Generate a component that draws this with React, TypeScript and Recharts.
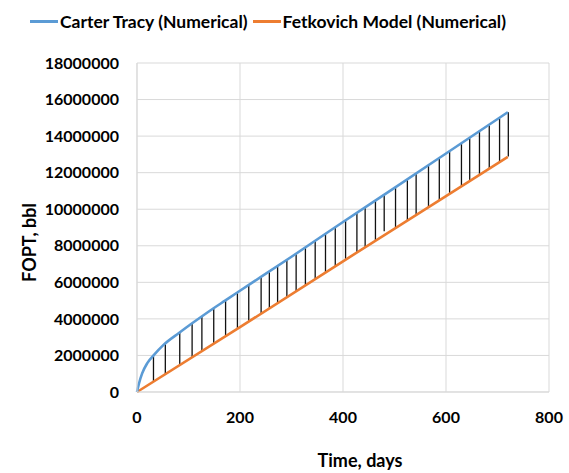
import React from 'react'
import {
  ComposedChart,
  Line,
  XAxis,
  YAxis,
  CartesianGrid,
  ReferenceLine
} from 'recharts'

// Carter Tracy curve (days, bbl)
const carterDays = [0, 4, 10, 20, 33, 52, 82, 107, 127, 148, 171, 194, 300, 400, 500, 600, 720]
const carterFopt = [
  0, 480000, 1020000, 1580000, 2030000, 2590000, 3240000, 3760000, 4160000, 4570000,
  5000000, 5430000, 7400000, 9300000, 11170000, 13050000, 15310000
]

// Fetkovich curve (days, bbl)
const fetkDays = [0, 200, 400, 600, 720]
const fetkFopt = [0, 3550000, 7150000, 10720000, 12860000]

// black hatch lines between the two curves
const hatchDays = [
  32, 55, 83, 107, 126, 149, 172, 195, 217, 241, 257, 273, 291, 309, 327, 346, 366, 385,
  405, 427, 443, 463, 480, 502, 525, 542, 566, 587, 607, 630, 646, 665, 684, 704, 721
]
const hatchTop = [
  2010000, 2660000, 3260000, 3760000, 4140000, 4590000, 5020000, 5450000, 5860000, 6310000,
  6610000, 6910000, 7240000, 7580000, 7920000, 8270000, 8650000, 9000000, 9380000, 9790000,
  10090000, 10460000, 10780000, 11190000, 11620000, 11940000, 12390000, 12780000, 13150000,
  13580000, 13880000, 14240000, 14590000, 14970000, 15310000
]
const hatchBottom = [
  570000, 980000, 1480000, 1910000, 2250000, 2660000, 3070000, 3480000, 3880000, 4300000,
  4590000, 4880000, 5200000, 5520000, 5840000, 6180000, 6540000, 6880000, 7230000, 7630000,
  7910000, 8270000, 8800000, 8970000, 9380000, 9680000, 10110000, 10480000, 10840000,
  11250000, 11540000, 11880000, 12220000, 12570000, 12880000
]

const xTicks = [0, 200, 400, 600, 800]
const yTicks = [0, 2000000, 4000000, 6000000, 8000000, 10000000, 12000000, 14000000, 16000000, 18000000]

const seriesNames = ['Carter Tracy (Numerical)', 'Fetkovich Model (Numerical)']
const seriesColors = ['#5B9BD5', '#ED7D31']

const carterData = carterDays.map((d, i) => ({ day: d, fopt: carterFopt[i] }))
const fetkData = fetkDays.map((d, i) => ({ day: d, fopt: fetkFopt[i] }))

const font = 'Lato, "Open Sans", sans-serif'
const tickStyle = { fontFamily: font, fontSize: 16, fontWeight: 700, fill: '#000' }

const App: React.FC = () => {
  return (
    <div style={{ position: 'relative', width: 569, height: 473 }}>
      <style>{'body{margin:0}'}</style>
      {/* legend */}
      <div
        style={{
          position: 'absolute',
          top: 11,
          left: 30,
          display: 'flex',
          alignItems: 'center',
          fontFamily: font,
          fontWeight: 700,
          fontSize: 17.5,
          color: '#000',
          whiteSpace: 'nowrap',
          zIndex: 2
        }}
      >
        {seriesNames.map((name, i) => (
          <div key={name} style={{ display: 'flex', alignItems: 'center', marginRight: 5 }}>
            <span
              style={{
                display: 'inline-block',
                width: 28,
                height: 2.5,
                background: seriesColors[i],
                marginRight: 2
              }}
            />
            <span>{name}</span>
          </div>
        ))}
      </div>

      <ComposedChart width={569} height={473} margin={{ top: 63, right: 20, left: 0, bottom: 0 }}>
        <CartesianGrid stroke="#d9d9d9" strokeWidth={1} />
        <XAxis
          type="number"
          dataKey="day"
          domain={[0, 800]}
          ticks={xTicks}
          height={81}
          tickSize={0}
          tickMargin={20}
          axisLine={{ stroke: '#d9d9d9' }}
          tickLine={false}
          tick={tickStyle}
          label={{
            value: 'Time, days',
            position: 'insideBottom',
            offset: 6,
            dx: 17,
            style: { fontFamily: font, fontSize: 18, fontWeight: 700, fill: '#000' }
          }}
        />
        <YAxis
          type="number"
          domain={[0, 18000000]}
          ticks={yTicks}
          width={137}
          tickSize={0}
          tickMargin={18}
          axisLine={{ stroke: '#d9d9d9' }}
          tickLine={false}
          tick={tickStyle}
          label={{
            content: (props: any) => {
              const vb = props.viewBox || { x: 0, y: 0, width: 0, height: 0 }
              const cx = vb.x + 29
              const cy = vb.y + vb.height / 2 + 15
              return (
                <text
                  x={cx}
                  y={cy}
                  transform={`rotate(-90 ${cx} ${cy})`}
                  textAnchor="middle"
                  dominantBaseline="central"
                  style={{ fontFamily: font, fontSize: 18, fontWeight: 700, fill: '#000' }}
                >
                  FOPT, bbl
                </text>
              )
            }
          }}
        />
        {hatchDays.map((d, i) => (
          <ReferenceLine
            key={d}
            segment={[
              { x: d, y: hatchBottom[i] },
              { x: d, y: hatchTop[i] }
            ]}
            stroke="#111"
            strokeWidth={1.3}
          />
        ))}
        <Line
          data={fetkData}
          dataKey="fopt"
          name={seriesNames[1]}
          type="linear"
          stroke={seriesColors[1]}
          strokeWidth={2.6}
          dot={false}
          isAnimationActive={false}
        />
        <Line
          data={carterData}
          dataKey="fopt"
          name={seriesNames[0]}
          type="monotone"
          stroke={seriesColors[0]}
          strokeWidth={2.6}
          dot={false}
          isAnimationActive={false}
        />
      </ComposedChart>
    </div>
  )
}

export default App
